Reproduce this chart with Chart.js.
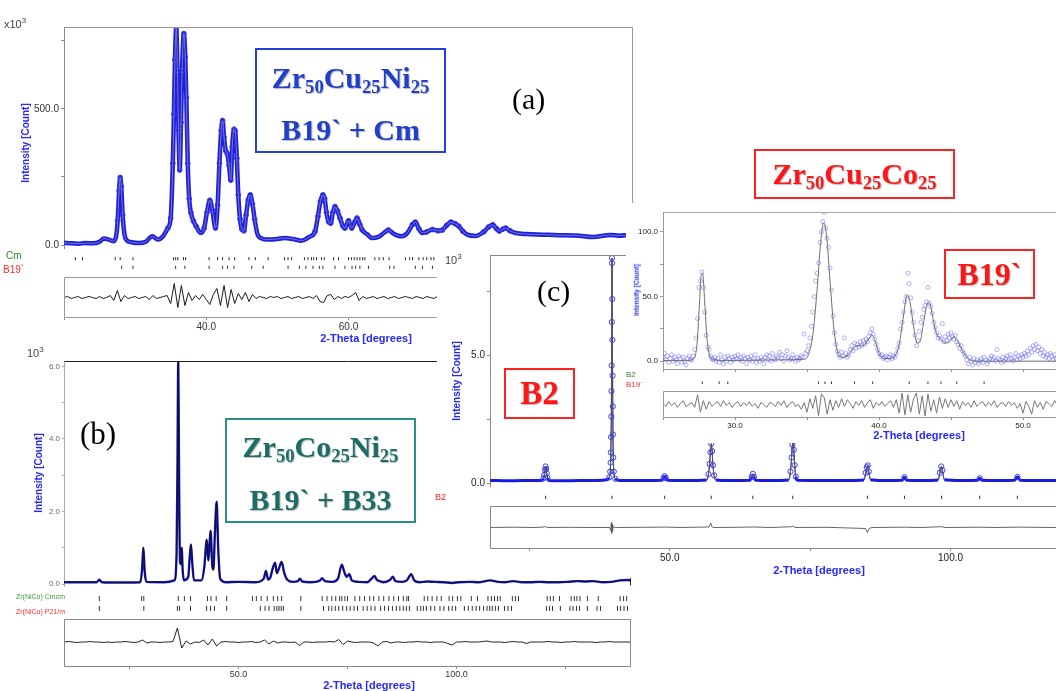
<!DOCTYPE html>
<html>
<head>
<meta charset="utf-8">
<title>XRD Rietveld patterns</title>
<script src="https://cdn.jsdelivr.net/npm/chart.js@4.4.1/dist/chart.umd.min.js"></script>
<style>
  html, body { margin: 0; padding: 0; background: #fff; }
  body { position: relative; width: 1056px; height: 691px; overflow: hidden; }
  .layer { position: absolute; left: 0; top: 0; width: 1056px; height: 691px; }
  .cv { position: absolute; left: 0; top: 0; }
  .cv canvas { position: absolute; }
  .bg { position: absolute; background: #fff; }
  .t { position: absolute; white-space: nowrap; font-family: "Liberation Sans", Arial, sans-serif; line-height: 1; }
  .mid { transform: translate(-50%, -50%); }
  .vmid { transform: translateY(-50%); }
  .rot { transform: translate(-50%, -50%) rotate(-90deg); }
  .axt { color: #2727ff; font-weight: bold; font-size: 11px; }
  .lbl { font-family: "Liberation Serif", "Times New Roman", serif; color: #000; font-size: 30px; }
  .box { position: absolute; box-sizing: border-box; border: 2px solid; text-align: center; white-space: nowrap;
         font-family: "Liberation Serif", "Times New Roman", serif; font-weight: bold;
         text-shadow: 1px 1px 1px rgba(0,0,0,0.28); }
  .box sub { font-size: 0.62em; vertical-align: -0.28em; line-height: 0; }
  sup { font-size: 8px; vertical-align: 5px; line-height: 0; }
</style>
</head>
<body>

<div class="layer" id="layerA">
  <div class="cv"></div>
  <div class="t" style="left:4px;top:19px;font-size:11px;color:#444;">x10<sup>3</sup></div>
  <div class="t axt rot" style="left:26px;top:143px;font-size:10px;">Intensity [Count]</div>
  <div class="t vmid" style="left:6px;top:256px;font-size:10px;color:#2a8a2a;">Cm</div>
  <div class="t vmid" style="left:3px;top:270px;font-size:10px;color:#ff2a2a;">B19`</div>
  <div class="t axt mid" style="left:366px;top:338px;">2-Theta [degrees]</div>
  <div class="box" style="left:255px;top:48px;width:191px;height:105px;border-color:#2340d8;color:#1f3fcc;font-size:30px;line-height:52px;padding-top:2px;">Zr<sub>50</sub>Cu<sub>25</sub>Ni<sub>25</sub><br>B19` + Cm</div>
  <div class="t lbl vmid" style="left:512px;top:99px;">(a)</div>
</div>

<div class="layer" id="layerB">
  <div class="cv"></div>
  <div class="t" style="left:27px;top:348px;font-size:11px;color:#444;">10<sup>3</sup></div>
  <div class="t axt rot" style="left:39px;top:473px;font-size:10px;">Intensity [Count]</div>
  <div class="t lbl vmid" style="left:80px;top:433px;font-size:31px;">(b)</div>
  <div class="box" style="left:225px;top:418px;width:191px;height:105px;border-color:#2b8f86;color:#1d6d66;font-size:30px;line-height:53px;">Zr<sub>50</sub>Co<sub>25</sub>Ni<sub>25</sub><br>B19` + B33</div>
  <div class="t vmid" style="left:16px;top:596px;font-size:7px;color:#3a9a3a;">Zr(NiCo) Cmcm</div>
  <div class="t vmid" style="left:16px;top:611px;font-size:7px;color:#ff3030;">Zr(NiCo) P21/m</div>
  <div class="t axt mid" style="left:369px;top:685px;">2-Theta [degrees]</div>
</div>

<div class="layer" id="layerC" style="clip-path: inset(250px 0px 113px 437px);">
  <div class="bg" style="left:437px;top:250px;width:619px;height:328px;"></div>
  <div class="cv"></div>
  <div class="t" style="left:445px;top:255px;font-size:11px;color:#444;">10<sup>3</sup></div>
  <div class="t axt rot" style="left:457px;top:381px;font-size:10px;">Intensity [Count]</div>
  <div class="t lbl vmid" style="left:537px;top:291px;">(c)</div>
  <div class="box" style="left:504px;top:368px;width:71px;height:51px;border-color:#ff2020;color:#ff1515;font-size:33px;line-height:47px;">B2</div>
  <div class="t axt mid" style="left:819px;top:570px;">2-Theta [degrees]</div>
</div>

<div class="layer" id="layerD" style="clip-path: inset(203px 0px 248px 626px);">
  <div class="bg" style="left:626px;top:203px;width:430px;height:240px;"></div>
  <div class="cv"></div>
  <div class="t axt rot" style="left:637px;top:290px;font-size:6.5px;">Intensity [Count]</div>
  <div class="t axt mid" style="left:919px;top:435px;">2-Theta [degrees]</div>
  <div class="box" style="left:944px;top:249px;width:91px;height:50px;border-color:#ff2020;color:#ff1515;font-size:32px;line-height:46px;">B19`</div>
</div>

<div class="layer" id="layerTop">
  <div class="box" style="left:754px;top:149px;width:201px;height:50px;border-color:#ff2020;color:#ff1515;font-size:30px;line-height:46px;">Zr<sub>50</sub>Cu<sub>25</sub>Co<sub>25</sub></div>
  <div class="t vmid" style="left:435px;top:497px;font-size:9px;color:#ff2020;">B2</div>
  <div class="t vmid" style="left:626px;top:375px;font-size:8px;color:#2a8a2a;">B2</div>
  <div class="t vmid" style="left:626px;top:385px;font-size:8px;color:#ff2a2a;">B19`</div>
</div>

<script>
// XRD refinement plots: three alloys + enlarged B19` inset
// values

// ---- (a) Zr50Cu25Ni25 : B19` + Cm ----
const aTheta = [
  20, 21, 22, 23, 24, 25, 25.6, 26.3, 26.9, 27.3,
  27.55, 27.75, 27.9, 28.05, 28.25, 28.5, 28.8, 29.5, 30.5, 31.5,
  32.4, 33.2, 34.0, 34.6, 35.0, 35.3, 35.45, 35.6, 35.78, 35.95,
  36.1, 36.27, 36.45, 36.6, 36.85, 37.05, 37.2, 37.4, 37.6, 37.85,
  38.2, 38.6, 39.2, 39.7, 40.1, 40.5, 40.85, 41.3, 41.6, 41.85,
  42.1, 42.3, 42.5, 42.75, 42.95, 43.2, 43.45, 43.65, 43.9, 44.05,
  44.3, 44.5, 44.75, 45.0, 45.3, 45.6, 45.9, 46.2, 46.5, 46.8,
  47.2, 47.8, 48.7, 50, 51, 52.2, 53.4, 54.5, 55.3, 55.7,
  56.05, 56.4, 56.65, 56.9, 57.2, 57.5, 57.8, 58.1, 58.45, 58.8,
  59.2, 59.5, 60.0, 60.45, 60.9, 61.2, 61.6, 61.9, 62.6, 63.3,
  64.2, 65.0, 65.6, 66.3, 67.0, 67.5, 68.3, 69.0, 69.4, 69.9,
  70.35, 71.0, 71.8, 72.6, 73.2, 73.8, 74.4, 75.0, 75.5, 76.1,
  76.7, 77.9, 79.0, 79.7, 80.3, 80.8, 81.2, 81.7, 82.1, 82.7,
  83.5, 85.0, 87.3, 89.5, 92.0, 94.4, 96.8, 98.0, 99.3
];
const aObs = [
  8, 6, 5, 7, 6, 12, 24, 20, 14, 28,
  90, 200, 248, 215, 110, 40, 18, 10, 7, 12,
  32, 20, 35, 62, 99, 300, 480, 680, 800, 640,
  420, 275, 450, 640, 776, 690, 540, 300, 170, 118,
  88, 68, 44, 62, 120, 164, 128, 62, 147, 300,
  420, 457, 395, 345, 336, 293, 238, 360, 425, 420,
  318, 184, 95, 58, 52, 110, 165, 184, 150, 95,
  40, 24, 20, 22, 26, 22, 16, 30, 50, 105,
  160, 184, 170, 120, 85, 80, 120, 141, 125, 99,
  70, 62, 89, 62, 85, 99, 75, 56, 40, 26,
  30, 45, 55, 42, 34, 32, 45, 75, 84, 60,
  44, 48, 57, 52, 55, 72, 84, 78, 69, 50,
  38, 33, 48, 66, 74, 60, 51, 58, 62, 52,
  44, 40, 38, 36, 35, 29, 37, 34, 37
];
// difference curve, one value every 0.5 deg from 20 deg
const aResStart = 20, aResStep = 0.5;
const aRes = [
  0, 1, -1, 0, 1, -1, 0, 1, 0, -1,
  1, -1, 0, 2, -3, 7, -4, 2, -1, 0,
  1, -1, 0, 1, -2, 2, -1, 0, 1, 2,
  -6, 14, -10, 12, -8, 5, -3, 2, -2, 3,
  -2, -7, 3, 9, -8, 12, -10, 8, -6, 4,
  -2, 5, -4, 3, -1, 1, 0, -1, 1, 0,
  1, -1, 0, 1, -1, 0, 1, -1, 0, 1,
  -1, 2, -4, -5, 2, 3, -2, 1, -1, 1,
  0, 2, 5, -3, 1, -1, 0, 1, -1, 0,
  1, -1, 0, 1, -1, 0, 1, 0, -1, 1,
  0, -1, 1, 0, -1, 1, 0, -1, 1, 0,
  -1, 1, 0, -1, 1, 0, 1, -1, 0, 1,
  0, -1, 1, 0, -1, 1, 0, 1, -1, 0,
  1, 0, -1, 1, 0, -1, 1, 0, -1, 0,
  1, -1, 0, 1, 0, -1, 1, 0, -1, 1,
  0, -1, 1, 0, 1, -1, 0, 1, -1, 0,
  0
];
const aCmTicks = [21.6, 22.6, 27.2, 27.9, 29.7, 35.4, 35.7, 36.0, 36.8, 37.1, 40.4, 41.6, 42.3, 43.2, 44.0,
  46.0, 46.9, 48.7, 51.0, 51.5, 52.0, 53.8, 54.3, 54.8, 55.1, 55.5, 56.2, 56.6, 57.9, 58.6, 60.0, 60.4,
  60.8, 61.2, 61.6, 62.0, 62.3, 63.7, 64.3, 64.9, 65.7, 68.0, 68.6, 69.0, 69.9, 70.5, 71.0, 71.6, 72.0];
const aB19Ticks = [28.1, 29.7, 35.7, 37.0, 40.4, 42.3, 43.0, 43.9, 46.4, 48.0, 51.5, 53.1, 54.0, 55.0, 55.9,
  56.4, 58.1, 59.5, 60.5, 61.0, 61.6, 62.8, 65.8, 66.4, 69.4, 70.4, 71.8];

// ---- (b) Zr50Co25Ni25 : B19` + B33 (intensity in 10^3 counts) ----
const bTheta = [
  10, 14, 17.5, 18.1, 18.7, 22, 27.5, 27.9, 28.2, 28.5,
  28.9, 33, 35.3, 35.8, 36.0, 36.2, 36.4, 36.6, 36.85, 37.0,
  37.2, 37.5, 38.5, 38.8, 39.1, 39.4, 39.8, 41.5, 42.2, 42.7,
  43.1, 43.6, 44.0, 44.25, 44.6, 45.0, 45.35, 45.8, 47, 50,
  54, 55.8, 56.3, 56.8, 57.3, 57.9, 58.4, 58.8, 59.2, 59.9,
  60.5, 61.2, 62.5, 63.6, 64.1, 64.6, 66.5, 68.6, 69.2, 69.8,
  71.5, 72.8, 73.7, 74.3, 74.8, 75.4, 76.0, 77.5, 79.5, 80.6,
  81.2, 81.7, 82.4, 83.2, 84.8, 85.4, 86.0, 87.5, 88.6, 89.6,
  90.3, 91.5, 93.3, 95, 97, 99, 100.5, 103, 105, 107.7,
  109.5, 111, 113, 115, 117, 119, 121, 123.5, 125.5, 127.7,
  129.5, 131.3, 133.5, 135.5, 137.5, 139, 140
];
const bObs = [
  0.05, 0.05, 0.05, 0.12, 0.05, 0.04, 0.05, 0.4, 1.0, 0.35,
  0.06, 0.05, 0.1, 0.8, 3.0, 6.14, 2.6, 0.6, 0.55, 1.0,
  0.4, 0.1, 0.2, 0.7, 1.09, 0.6, 0.1, 0.1, 0.5, 1.23,
  0.65, 1.47, 0.5, 0.4, 1.4, 2.27, 1.0, 0.15, 0.05, 0.06,
  0.05, 0.15, 0.36, 0.12, 0.18, 0.45, 0.59, 0.3, 0.4, 0.61,
  0.3, 0.12, 0.06, 0.08, 0.15, 0.07, 0.05, 0.09, 0.16, 0.08,
  0.06, 0.15, 0.53, 0.32, 0.2, 0.27, 0.1, 0.06, 0.05, 0.16,
  0.22, 0.12, 0.08, 0.05, 0.12, 0.2, 0.08, 0.06, 0.1, 0.27,
  0.1, 0.05, 0.07, 0.06, 0.05, 0.03, 0.05, 0.06, 0.05, 0.1,
  0.06, 0.05, 0.08, 0.05, 0.05, 0.06, 0.05, 0.05, 0.06, 0.08,
  0.07, 0.08, 0.05, 0.06, 0.1, 0.11, 0.1
];
const bResStart = 10, bResStep = 1;
const bRes = [
  1, 1.5, 1, 0.5, 1, 1, 1.5, 1, 1, 0.5,
  1, 0.5, 1, 1, 1.5, 1, 0.5, 1, 3, 0,
  1, 1, 0.5, 1, 1, 1.5, 15, -5, 2, -1,
  1, 0.5, 3, -2, 4, -3, 1, 1.5, 1, 1,
  0.5, 1, 1, 1.5, 0.5, 1, 3, -1, 2, 0,
  1, 1, 0.5, 1, -2.5, 1, 1, 0.5, 1, 1,
  1, 1.5, 1, 3.5, -1.5, 2, 1, 0.5, 1, 1,
  1, 0, -3, 1, 1.5, 0, 1, 1, 0.5, 1,
  1, 1.5, 1, 1, 0.5, 1, 1, 1, -0.5, -2,
  1, 1, 1.5, 1, 1, 1, 1.5, 2, 1, 1,
  1, 0.5, 1, 1.5, 1, 1, -0.5, 1, 1, 1,
  1, 1.5, 1, 1, 0.5, 1, 1, 1.5, 1, 1,
  1, 1, 0.5, 1, 1, 1.5, 1, 1, 1, 1,
  1
];
const bCmcmTicks = [18.1, 27.8, 28.3, 36.2, 37.6, 39.0, 42.9, 43.7, 44.9, 47.3, 53.2, 54.1, 55.2, 56.6, 58.0,
  59.0, 59.9, 64.3, 69.2, 70.3, 71.4, 72.3, 73.2, 73.7, 74.4, 75.0, 76.7, 77.8, 78.9, 80.1, 81.0, 82.2,
  83.3, 84.5, 85.6, 86.7, 87.8, 88.6, 89.0, 92.6, 93.4, 94.4, 95.5, 96.5, 98.3, 99.1, 100.2, 101.0,
  103.4, 104.8, 107.2, 108.0, 108.7, 109.4, 110.0, 112.8, 113.5, 114.2, 120.8, 121.5, 122.2, 123.6,
  126.3, 127.0, 127.6, 128.3, 130.0, 132.5, 137.5, 138.3, 139.0];
const bP21mTicks = [18.1, 28.3, 36.0, 36.5, 39.0, 42.7, 43.6, 44.5, 47.3, 55.0, 56.1, 57.0, 58.2, 58.8, 59.3,
  59.8, 60.3, 64.3, 69.5, 70.7, 71.4, 72.2, 73.0, 73.9, 74.8, 75.6, 76.5, 77.3, 78.6, 79.5, 80.4, 81.3,
  82.6, 83.5, 84.4, 85.3, 86.2, 87.0, 87.8, 88.5, 89.2, 91.0, 91.8, 92.4, 93.1, 94.1, 95.0, 96.2, 97.1,
  98.2, 99.0, 99.8, 101.8, 102.7, 103.6, 104.5, 105.3, 106.2, 107.0, 107.6, 108.2, 108.9, 109.6, 111.0,
  111.8, 112.6, 120.6, 121.3, 122.0, 123.8, 126.0, 126.7, 127.5, 128.2, 130.0, 132.2, 133.0, 136.9,
  137.6, 138.4, 139.2];

// ---- (c) Zr50Cu25Co25 : B2 (intensity in 10^3 counts) ----
const cTheta = [
  18, 21, 24, 27.2, 27.5, 27.65, 27.8, 27.9, 28.0, 28.1,
  28.25, 28.5, 31, 34, 37, 38.8, 39.2, 39.4, 39.48, 39.52,
  39.56, 39.6, 39.63, 39.66, 39.69, 39.72, 39.74, 39.77, 39.8, 39.83,
  39.86, 39.9, 39.95, 40.05, 40.3, 41, 45, 48.6, 48.9, 49.1,
  49.3, 49.6, 53, 56.6, 56.9, 57.1, 57.25, 57.4, 57.55, 57.7,
  57.9, 58.2, 61, 64.3, 64.6, 64.8, 65.0, 65.3, 68, 71.2,
  71.5, 71.7, 71.85, 71.95, 72.1, 72.25, 72.45, 72.8, 77, 81,
  84.6, 84.9, 85.1, 85.25, 85.45, 85.75, 88, 91.4, 91.8, 92.2,
  95, 97.8, 98.1, 98.35, 98.55, 98.9, 102, 104.8, 105.2, 105.6,
  108, 111.4, 111.9, 112.4, 115, 120, 125, 130
];
const cObs = [
  0.1, 0.09, 0.1, 0.1, 0.18, 0.32, 0.52, 0.65, 0.55, 0.38,
  0.2, 0.1, 0.09, 0.1, 0.1, 0.13, 0.22, 0.45, 0.8, 1.2,
  1.8, 2.6, 3.6, 4.6, 6.3, 8.8, 8.6, 7.2, 5.6, 4.2,
  3.0, 1.9, 1.0, 0.45, 0.17, 0.1, 0.1, 0.11, 0.2, 0.27,
  0.2, 0.11, 0.1, 0.12, 0.35, 0.75, 1.2, 1.54, 1.25, 0.7,
  0.3, 0.12, 0.1, 0.11, 0.25, 0.36, 0.24, 0.11, 0.1, 0.12,
  0.45, 1.0, 1.5, 1.7, 1.3, 0.7, 0.25, 0.11, 0.1, 0.1,
  0.12, 0.4, 0.62, 0.69, 0.45, 0.13, 0.1, 0.11, 0.23, 0.11,
  0.1, 0.12, 0.4, 0.65, 0.5, 0.13, 0.1, 0.11, 0.19, 0.11,
  0.1, 0.11, 0.24, 0.11, 0.1, 0.1, 0.1, 0.1
];
const cResTheta = [18, 22, 26, 27.6, 27.9, 28.2, 32, 36, 39.3, 39.5, 39.6, 39.65, 39.7, 39.75, 39.8, 39.9,
  40.1, 40.5, 45, 49.1, 52, 57.0, 57.3, 57.5, 57.8, 62, 64.8, 68, 71.7, 72.0, 72.3, 78, 84.9, 85.2,
  85.5, 86, 91.8, 95, 98.4, 99, 105.2, 108, 112, 118, 130];
const cRes = [0, 0.3, 0, 0.5, 1, 0, 0.2, 0, 0, -3, 4, -6, 5, -4, 3, -1,
  0.5, 0, 0.2, 0.4, 0, 0.5, 4.5, 1, 0, 0.2, 0.5, 0, 0.8, 1.5, 0, 0.2, -1, -5,
  -1, 0, 0.3, 0, 0.8, 0, 0.3, 0, 0.4, 0, 0];
const cB2Ticks = [27.9, 39.7, 49.1, 57.4, 64.8, 71.9, 85.2, 91.8, 98.4, 105.2, 111.9];

// ---- inset: Zr50Cu25Co25, B19` region (counts) ----
const insObsStart = 25, insObsStep = 0.1;
const insObs = [
  3, 6, 1, 4, -1, 2, 5, 0, 3, 1,
  -2, 4, 2, -1, 3, 0, -3, 2, 4, 1,
  1, 4, 9, 18, 33, 57, 62, 69, 57, 38,
  20, 11, 9, 4, 2, 1, 3, 0, 2, -1,
  5, 1, -2, 3, 0, 4, 2, -1, 3, 1,
  4, 2, 5, 1, 3, 0, 4, 2, -2, 3,
  1, 4, 0, 2, 5, -1, 2, 0, 3, 1,
  -2, 3, 5, 1, 4, 0, 6, 2, 1, 4,
  3, 7, 2, 5, 0, 4, 8, 3, 1, 2,
  5, 2, 0, 3, 1, 2, 4, 3, 21, 6,
  8, 12, 18, 27, 38, 50, 62, 68, 76, 92,
  100, 108, 115, 103, 95, 88, 72, 55, 35, 22,
  13, 8, 5, 3, 7, 4, 18, 6, 3, 5,
  9, 12, 8, 14, 10, 13, 11, 15, 12, 16,
  13, 17, 15, 19, 22, 25, 21, 17, 13, 9,
  6, 4, 5, 2, 3, 4, 1, 3, 5, 2,
  4, 3, 6, 10, 14, 25, 30, 38, 46, 50,
  68, 60, 49, 38, 30, 20, 12, 16, 23, 30,
  34, 40, 43, 46, 57, 45, 42, 37, 30, 26,
  22, 18, 20, 17, 29, 15, 19, 16, 21, 18,
  22, 19, 17, 20, 15, 13, 10, 12, 8, 6,
  4, 1, -2, 3, 0, -3, 2, -1, 1, -2,
  0, 2, -1, 3, 1, -2, 0, 2, 4, 1,
  3, 0, 9, 2, 1, -1, 3, 0, 2, 4,
  1, 5, 2, 0, 3, 6, 1, 4, 2, 5,
  3, 6, 4, 8, 5, 10, 7, 12, 9, 13,
  8, 11, 6, 9, 4, 7, 3, 5, 2, 6,
  4, 1, 5, 2, 3, 0
];
const insCalcTheta = [25, 26.5, 27.1, 27.35, 27.5, 27.65, 27.75, 27.9, 28.05, 28.25, 28.5, 29.5, 33, 34.8,
  35.1, 35.4, 35.7, 35.95, 36.15, 36.35, 36.6, 36.85, 37.1, 37.4, 37.8, 38.1, 38.45, 38.8, 39.1, 39.4,
  39.55, 39.75, 40.0, 40.3, 40.8, 41.1, 41.4, 41.7, 41.95, 42.15, 42.4, 42.65, 42.85, 43.1, 43.35, 43.5,
  43.75, 44.0, 44.3, 44.6, 44.9, 45.2, 45.45, 45.8, 46.2, 46.6, 48, 55];
const insCalc = [0.5, 0.5, 1.5, 12, 38, 66, 68, 45, 18, 4, 1, 0.5, 1, 1.5,
  5, 20, 55, 92, 107, 98, 62, 27, 8, 3, 4, 8, 12, 12, 14, 19,
  20, 15, 6, 2, 2, 4, 13, 35, 51, 46, 27, 14, 15, 30, 44, 45,
  33, 21, 17, 14, 15, 19, 16, 8, 2, 0, 0, 0];
const insResStart = 25, insResStep = 0.2;
const insRes = [
  1, -2, 3, -1, 2, -3, 1, 4, -2, 0,
  2, -3, 10, -8, 4, -5, 3, -2, 1, 3,
  -2, 4, -1, 2, -3, 1, 3, -2, 2, -1,
  3, -2, 1, -4, 2, 0, -3, 2, 1, -2,
  3, -1, 4, -3, 1, 3, -2, 0, -5, 2,
  -8, 6, -4, 9, -12, 11, 7, -10, 5, -6,
  4, -3, 6, -2, 5, 1, -4, 3, -1, 4,
  -3, 2, 5, -4, 2, -1, 3, -2, 1, 4,
  -3, 5, -9, 12, -11, 10, -8, 6, 12, -10,
  9, -12, 11, -7, 5, -9, 8, -4, 6, -3,
  5, -2, 4, -5, 3, -1, 2, -3, 4, -2,
  1, 3, -2, 2, -1, 4, -3, 1, 2, -2,
  3, -1, 2, -4, 1, -9, 3, -2, -10, 4,
  -3, 2, -5, 3, 1, -2, 4, -1
];
const insTicks = [27.73, 28.9, 29.5, 35.8, 36.25, 36.7, 38.3, 39.56, 42.1, 43.4, 44.3, 45.4, 47.3];

// ---------- helpers ----------
function pts(xs, ys) {
  return xs.map(function (x, i) { return { x: x, y: ys[i] }; });
}
function stepSeries(start, step, ys) {
  return ys.map(function (y, i) { return { x: +(start + i * step).toFixed(3), y: y }; });
}

// draws the plot frame sides that Chart.js has no option for
const framePlugin = {
  id: 'frame',
  afterDatasetsDraw(chart, args, opts) {
    const sides = (opts && opts.sides) || '';
    if (!sides) return;
    const a = chart.chartArea, ctx = chart.ctx;
    const l = Math.round(a.left) + 0.5, r = Math.round(a.right) - 0.5;
    const t = Math.round(a.top) + 0.5, b = Math.round(a.bottom) - 0.5;
    ctx.save();
    ctx.strokeStyle = opts.color || '#8a8a8a';
    ctx.lineWidth = 1;
    ctx.beginPath();
    if (sides.indexOf('t') >= 0) { ctx.moveTo(l, t); ctx.lineTo(r, t); }
    if (sides.indexOf('r') >= 0) { ctx.moveTo(r, t); ctx.lineTo(r, b); }
    if (sides.indexOf('b') >= 0) { ctx.moveTo(l, b); ctx.lineTo(r, b); }
    if (sides.indexOf('l') >= 0) { ctx.moveTo(l, t); ctx.lineTo(l, b); }
    ctx.stroke();
    ctx.restore();
  }
};

function linAxis(min, max, o) {
  o = o || {};
  const col = o.color || '#8a8a8a';
  const axis = {
    type: 'linear', min: min, max: max, reverse: !!o.reverse,
    border: { display: !!o.line, color: col },
    grid: { display: !!o.step, drawOnChartArea: false, drawTicks: true, tickLength: o.tick || 3, color: col },
    ticks: {
      display: !!o.every, autoSkip: false, maxRotation: 0,
      padding: o.pad == null ? 2 : o.pad, color: o.text || '#222',
      font: { family: 'Liberation Sans', size: o.size || 10 },
      callback: function (v) {
        if (!o.every) return '';
        const q = v / o.every;
        return (Math.abs(q - Math.round(q)) < 1e-6 && v > min + 1e-6) ? v.toFixed(1) : '';
      }
    }
  };
  if (o.step) {
    // tick marks on whole multiples of the step only
    axis.afterBuildTicks = function (s) {
      const list = [];
      for (let k = Math.ceil(min / o.step); k * o.step <= max + 1e-9; k++) {
        list.push({ value: +(k * o.step).toFixed(6) });
      }
      s.ticks = list;
    };
  }
  return axis;
}

// area = plot area in page pixels, pad = room around it for the axes
function makeChart(layerId, area, pad, xScale, yScale, datasets, frame) {
  const holder = document.querySelector('#' + layerId + ' .cv');
  const cv = document.createElement('canvas');
  const W = area.w + pad.l + pad.r;
  const H = area.h + pad.t + pad.b;
  cv.width = W;
  cv.height = H;
  cv.style.left = (area.x - pad.l) + 'px';
  cv.style.top = (area.y - pad.t) + 'px';
  cv.style.width = W + 'px';
  cv.style.height = H + 'px';
  holder.appendChild(cv);
  xScale.afterFit = function (s) { s.height = pad.b; };
  yScale.afterFit = function (s) { s.width = pad.l; };
  return new Chart(cv.getContext('2d'), {
    type: 'scatter',
    data: { datasets: datasets },
    options: {
      responsive: false,
      animation: false,
      events: [],
      layout: { padding: { left: 0, top: pad.t, right: pad.r, bottom: 0 } },
      scales: { x: xScale, y: yScale },
      plugins: { legend: { display: false }, tooltip: { enabled: false }, frame: frame || {} }
    },
    plugins: [framePlugin]
  });
}

function lineSet(data, color, width, extra) {
  return Object.assign({
    data: data, showLine: true, borderColor: color, borderWidth: width,
    pointRadius: 0, cubicInterpolationMode: 'monotone'
  }, extra || {});
}
function tickSet(positions, level, len) {
  return {
    data: positions.map(function (x) { return { x: x, y: level }; }),
    showLine: false, pointStyle: 'line', pointRotation: 90, pointRadius: len,
    pointBorderColor: '#333', pointBorderWidth: 1
  };
}
// open circles only where the profile leaves the background band
function circleRadius(limit, r) {
  return function (ctx) { return ctx.raw && ctx.raw.y > limit ? r : 0; };
}
// true when a line segment lies inside the background band
function onBase(ctx, limit) {
  return ctx.p0.parsed.y < limit && ctx.p1.parsed.y < limit;
}

// ---------- (a) ----------
makeChart('layerA', { x: 64, y: 27, w: 569, h: 223 }, { l: 50, t: 8, r: 20, b: 6 },
  linAxis(20, 100, {}),
  linAxis(-11, 800, { step: 250, every: 500, line: true, size: 10, text: '#333' }),
  [
    lineSet(pts(aTheta, aObs), '#8f8fb8', 0.8),
    lineSet(pts(aTheta, aObs), '#1e1ee0', 4.5, {
      pointRadius: circleRadius(45, 2.4), pointBorderColor: '#3434f0', pointBorderWidth: 1,
      pointBackgroundColor: 'rgba(255,255,255,0)'
    })
  ],
  { sides: 'tr', color: '#999' });

makeChart('layerA', { x: 64, y: 250, w: 569, h: 26 }, { l: 50, t: 0, r: 20, b: 0 },
  linAxis(20, 100, {}), linAxis(0, 26, { reverse: true }),
  [tickSet(aCmTicks, 6, 1.6), tickSet(aB19Ticks, 20, 1.6)]);

makeChart('layerA', { x: 64, y: 277, w: 569, h: 41 }, { l: 50, t: 4, r: 20, b: 20 },
  linAxis(20, 100, { step: 20, every: 20, tick: 2, pad: 1, size: 10, text: '#333' }),
  linAxis(-20.5, 20.5, {}),
  [lineSet(stepSeries(aResStart, aResStep, aRes), '#1a1a1a', 1, { cubicInterpolationMode: 'default', tension: 0 })],
  { sides: 'trbl', color: '#999' });

// ---------- (b) ----------
makeChart('layerB', { x: 64, y: 361, w: 567, h: 228 }, { l: 40, t: 8, r: 20, b: 4 },
  linAxis(10, 140, {}),
  linAxis(-0.06, 6.15, { step: 1, every: 2, line: true, size: 8, text: '#666', tick: 2, color: '#aaa' }),
  [
    lineSet(pts(bTheta, bObs), '#111', 1),
    lineSet(pts(bTheta, bObs), '#1616d8', 2.4)
  ],
  { sides: 'tr', color: '#222' });

makeChart('layerB', { x: 64, y: 589, w: 567, h: 29 }, { l: 40, t: 0, r: 20, b: 0 },
  linAxis(10, 140, {}), linAxis(0, 29, { reverse: true }),
  [tickSet(bCmcmTicks, 7, 2.5), tickSet(bP21mTicks, 22, 2.5)]);

makeChart('layerB', { x: 64, y: 619, w: 567, h: 48 }, { l: 40, t: 4, r: 20, b: 16 },
  linAxis(10, 140, { step: 25, every: 50, tick: 2, pad: 0, size: 9, text: '#333' }),
  linAxis(-24, 24, {}),
  [lineSet(stepSeries(bResStart, bResStep, bRes), '#222', 1, { cubicInterpolationMode: 'default', tension: 0 })],
  { sides: 'trbl', color: '#888' });

// ---------- (c) ----------
makeChart('layerC', { x: 490, y: 255, w: 629, h: 235 }, { l: 30, t: 8, r: 20, b: 4 },
  linAxis(18, 130, {}),
  linAxis(-0.115, 8.92, { step: 2.5, every: 5, line: true, size: 10, text: '#222' }),
  [
    lineSet(pts(cTheta, cObs), '#555', 1, {
      segment: {
        borderColor: function (ctx) { return onBase(ctx, 0.3) ? 'rgba(0,0,0,0)' : undefined; }
      }
    }),
    lineSet(pts(cTheta, cObs), '#1a1ae6', 3, {
      pointRadius: circleRadius(0.15, 2.6), pointBorderColor: '#3c3cf2', pointBorderWidth: 1,
      pointBackgroundColor: 'rgba(255,255,255,0)',
      segment: {
        borderWidth: function (ctx) { return onBase(ctx, 0.3) ? 3 : 1; }
      }
    })
  ],
  { sides: 'tr', color: '#888' });

makeChart('layerC', { x: 490, y: 490, w: 629, h: 15 }, { l: 30, t: 0, r: 20, b: 0 },
  linAxis(18, 130, {}), linAxis(0, 15, { reverse: true }),
  [tickSet(cB2Ticks, 7, 1.6)]);

makeChart('layerC', { x: 490, y: 506, w: 629, h: 43 }, { l: 30, t: 4, r: 20, b: 20 },
  linAxis(18, 130, { step: 25, every: 50, tick: 2, pad: 1, size: 10, text: '#222' }),
  linAxis(-21.5, 21.5, {}),
  [lineSet(pts(cResTheta, cRes), '#555', 0.9, { cubicInterpolationMode: 'default', tension: 0 })],
  { sides: 'trbl', color: '#888' });

// ---------- inset ----------
makeChart('layerD', { x: 663, y: 212, w: 432, h: 158 }, { l: 28, t: 8, r: 20, b: 6 },
  linAxis(25, 55, { step: 5, line: true, tick: 3, color: '#999' }),
  linAxis(-6.2, 115.4, { step: 25, every: 50, line: true, size: 8, text: '#222', color: '#999' }),
  [
    lineSet(pts(insCalcTheta, insCalc), '#707070', 1),
    {
      data: stepSeries(insObsStart, insObsStep, insObs), showLine: false,
      pointRadius: 2, pointBorderColor: 'rgba(90,90,250,0.6)', pointBorderWidth: 0.8,
      pointBackgroundColor: 'rgba(255,255,255,0)'
    }
  ],
  { sides: 'tr', color: '#aaa' });

makeChart('layerD', { x: 663, y: 372, w: 432, h: 18 }, { l: 28, t: 0, r: 20, b: 0 },
  linAxis(25, 55, {}), linAxis(0, 18, { reverse: true }),
  [tickSet(insTicks, 13, 1.3)]);

makeChart('layerD', { x: 663, y: 391, w: 432, h: 27 }, { l: 28, t: 4, r: 20, b: 14 },
  linAxis(25, 55, { step: 5, every: 10, tick: 2, pad: 1, size: 8, text: '#222' }),
  linAxis(-14, 14, {}),
  [lineSet(stepSeries(insResStart, insResStep, insRes), '#777', 1, { cubicInterpolationMode: 'default', tension: 0 })],
  { sides: 'trbl', color: '#999' });
</script>
</body>
</html>
